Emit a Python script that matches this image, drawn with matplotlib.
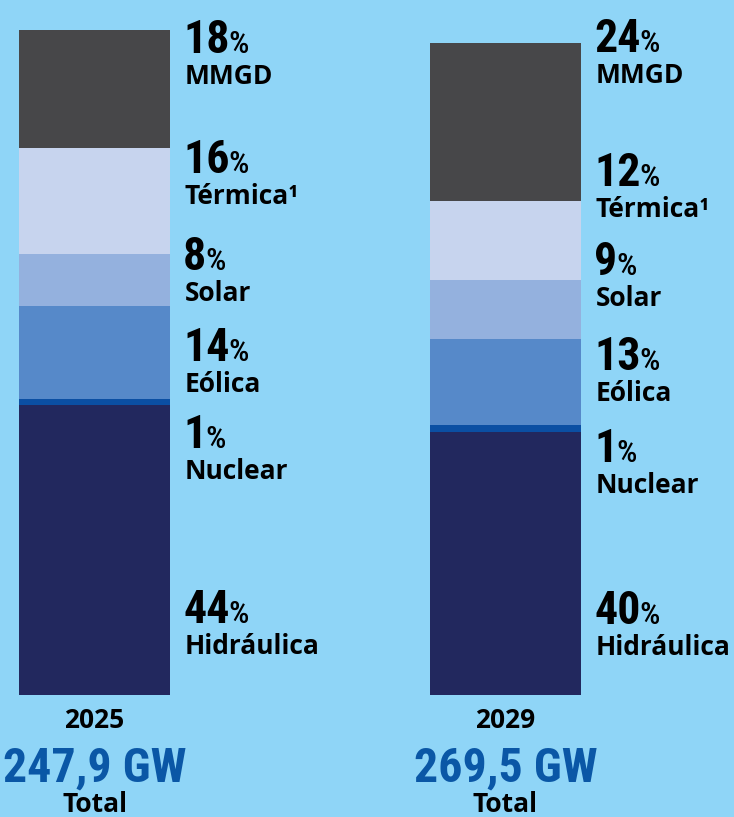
import numpy as np
import matplotlib
matplotlib.use('Agg')
from matplotlib import pyplot as plt

# data, bottom to top
categories = ['Hidráulica', 'Nuclear', 'Eólica', 'Solar', 'Térmica¹', 'MMGD']
years = ['2025', '2029']
totals = ['247,9 GW', '269,5 GW']
shares_2025 = [44, 1, 14, 8, 16, 18]
shares_2029 = [40, 1, 13, 9, 12, 24]
shares = [shares_2025, shares_2029]

# label baselines (in % units of the axis), bottom to top
label_y_2025 = [10.9, 37.5, 50.7, 64.5, 79.2, 97.4]
label_y_2029 = [10.8, 35.4, 49.3, 63.7, 77.2, 97.6]
label_y = [label_y_2025, label_y_2029]

colors = ['#22285e', '#0b4fa3', '#5689c9', '#94b1de', '#c7d4ee', '#474749']
bg = '#8fd5f7'
blue_txt = '#0a57a6'

NARROW = ['Roboto Condensed', 'DejaVu Sans']
BOLD = ['Open Sans', 'DejaVu Sans']

fig = plt.figure(figsize=(7.34, 8.17), dpi=100)
fig.patch.set_facecolor(bg)
ax = fig.add_axes([0, 0, 1, 1])
ax.set_facecolor(bg)
ax.set_axis_off()

width = 0.367
x = np.arange(len(years))
ax.set_xlim(-0.23, 1.556)
ax.set_ylim(-18.5, 105.5)

for i in range(len(years)):
	bottom = 0
	for j in range(len(categories)):
		ax.bar(x[i], shares[i][j], width, bottom=bottom, color=colors[j], linewidth=0)
		bottom += shares[i][j]

fig.canvas.draw()
renderer = fig.canvas.get_renderer()
inv = ax.transData.inverted()

for i in range(len(years)):
	tx = x[i] + width / 2 + 0.032
	for j in range(len(categories)):
		y = label_y[i][j]
		t = ax.text(tx, y, str(shares[i][j]), fontsize=33, fontweight='bold',
			family=NARROW, va='baseline', ha='left', color='black')
		bb = t.get_window_extent(renderer)
		xr = inv.transform((bb.x1, bb.y0))[0]
		ax.text(xr - 0.002, y, '%', fontsize=23, fontweight='medium',
			family=NARROW, va='baseline', ha='left', color='black')
		ax.text(tx + 0.004, y - 4.7, categories[j], fontsize=19, fontweight='bold',
			family=BOLD, va='baseline', ha='left', color='black')

	ax.text(x[i], -5.0, years[i], fontsize=19, fontweight='bold', family=BOLD,
		va='baseline', ha='center', color='black')
	ax.text(x[i], -13.1, totals[i], fontsize=34.5, fontweight='bold', family=NARROW,
		va='baseline', ha='center', color=blue_txt)
	ax.text(x[i], -17.7, 'Total', fontsize=19, fontweight='bold', family=BOLD,
		va='baseline', ha='center', color='black')

fig.savefig('out.png', dpi=100, facecolor=bg)
